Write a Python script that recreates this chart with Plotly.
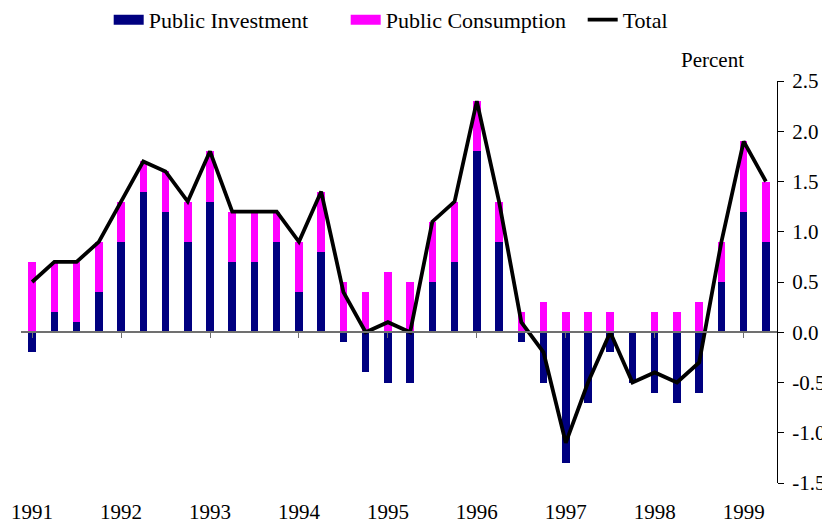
import plotly.graph_objects as go

quarters = list(range(34))  # 1991Q1 .. 1999Q2
year_labels = ["1991", "1992", "1993", "1994", "1995", "1996", "1997", "1998", "1999"]
year_ticks = [0, 4, 8, 12, 16, 20, 24, 28, 32]

public_investment = [-0.2, 0.2, 0.1, 0.4, 0.9, 1.4, 1.2, 0.9, 1.3, 0.7, 0.7, 0.9,
                     0.4, 0.8, -0.1, -0.4, -0.5, -0.5, 0.5, 0.7, 1.8, 0.9, -0.1, -0.5,
                     -1.3, -0.7, -0.2, -0.5, -0.6, -0.7, -0.6, 0.5, 1.2, 0.9]
public_consumption = [0.7, 0.5, 0.6, 0.5, 0.4, 0.3, 0.4, 0.4, 0.5, 0.5, 0.5, 0.3,
                      0.5, 0.6, 0.5, 0.4, 0.6, 0.5, 0.6, 0.6, 0.5, 0.4, 0.2, 0.3,
                      0.2, 0.2, 0.2, 0.0, 0.2, 0.2, 0.3, 0.4, 0.7, 0.6]
total = [0.5, 0.7, 0.7, 0.9, 1.3, 1.7, 1.6, 1.3, 1.8, 1.2, 1.2, 1.2,
         0.9, 1.4, 0.4, 0.0, 0.1, 0.0, 1.1, 1.3, 2.3, 1.3, 0.1, -0.2,
         -1.1, -0.5, 0.0, -0.5, -0.4, -0.5, -0.3, 0.9, 1.9, 1.5]
y_ticks = [-1.5, -1.0, -0.5, 0.0, 0.5, 1.0, 1.5, 2.0, 2.5]

FONT = "Liberation Serif, Times New Roman, serif"
NAVY = "#000080"
MAGENTA = "#FF00FF"

fig = go.Figure()
fig.add_trace(go.Bar(x=quarters, y=public_investment, name="Public Investment",
                     legendgroup="inv", showlegend=False,
                     marker=dict(color=NAVY, line=dict(width=0)), width=0.34))
fig.add_trace(go.Bar(x=quarters, y=public_consumption, name="Public Consumption",
                     legendgroup="cons", showlegend=False,
                     marker=dict(color=MAGENTA, line=dict(width=0)), width=0.34))
# legend-only entries (wide swatches like the original legend)
fig.add_trace(go.Scatter(x=[None], y=[None], name="Public Investment", legendgroup="inv",
                         mode="lines", line=dict(color=NAVY, width=10)))
fig.add_trace(go.Scatter(x=[None], y=[None], name="Public Consumption", legendgroup="cons",
                         mode="lines", line=dict(color=MAGENTA, width=10)))
fig.add_trace(go.Scatter(x=quarters, y=total, name="Total", mode="lines",
                         line=dict(color="black", width=3.8), xaxis="x2"))

# page body has an 8px margin, so the figure is sized/margined to compensate
fig.update_layout(
    width=822, height=519,
    margin=dict(l=13, r=53, t=73, b=44, autoexpand=False),
    paper_bgcolor="white", plot_bgcolor="white",
    barmode="relative", bargap=0,
    font=dict(family=FONT, size=21, color="black"),
    showlegend=True,
    legend=dict(orientation="h", x=0.116, xanchor="left", y=1.152, yanchor="middle",
                font=dict(size=22), tracegroupgap=0, bgcolor="rgba(0,0,0,0)",
                entrywidth=192, entrywidthmode="pixels"),
    xaxis=dict(range=[-0.5, 33.5], tickvals=year_ticks, ticktext=year_labels,
               showline=False, ticks="", showgrid=False, zeroline=False,
               ticklabelstandoff=14, tickfont=dict(size=21)),
    xaxis2=dict(overlaying="x", matches="x", anchor="free", position=0.375,
                range=[-0.5, 33.5], tickvals=year_ticks, showticklabels=False,
                showline=True, linecolor="#707070", linewidth=1.5,
                ticks="outside", ticklen=5, tickcolor="#707070", showgrid=False, zeroline=False),
    yaxis=dict(range=[-1.5, 2.5], side="right", tickvals=y_ticks,
               ticktext=[f"{v:.1f}" for v in y_ticks],
               showline=True, linecolor="black", linewidth=1.2,
               ticks="outside", ticklen=6, tickcolor="black", ticklabelstandoff=4,
               showgrid=False, zeroline=False, tickfont=dict(size=21)),
    annotations=[dict(text="Percent", xref="paper", yref="paper", x=0.915, y=1.052,
                      xanchor="center", yanchor="middle", showarrow=False,
                      font=dict(size=21))],
)

fig.write_html("out.html")
